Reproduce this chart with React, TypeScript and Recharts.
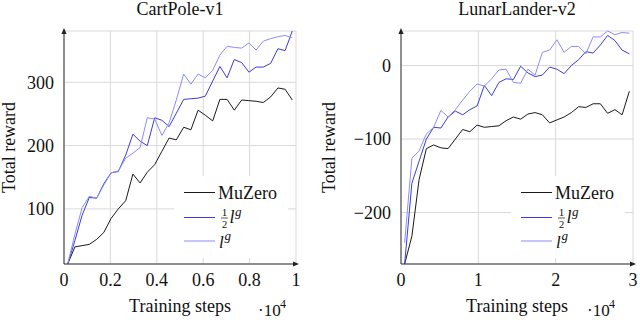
import React from 'react';
import { LineChart, Line, XAxis, YAxis, CartesianGrid, ReferenceDot } from 'recharts';

// ---------- data (x in units of 10^4 training steps) ----------
const cartpoleSteps = [0.016, 0.047, 0.078, 0.109, 0.141, 0.172, 0.203, 0.234, 0.266, 0.297, 0.328, 0.359, 0.391, 0.422, 0.453, 0.484, 0.516, 0.547, 0.578, 0.609, 0.641, 0.672, 0.703, 0.734, 0.766, 0.797, 0.828, 0.859, 0.891, 0.922, 0.953, 0.984];
const cartpoleMuZero = [13, 40, 42, 44, 52, 63, 85, 100, 113, 155, 141, 158, 170, 191, 212, 209, 229, 225, 256, 248, 239, 273, 273, 256, 272, 271, 270, 268, 277, 291, 289, 272];
const cartpoleHalfLg = [13, 50, 90, 118, 117, 140, 157, 159, 185, 218, 207, 200, 244, 240, 230, 251, 273, 274, 275, 278, 302, 325, 307, 336, 331, 316, 324, 324, 330, 353, 350, 381];
const cartpoleLg = [13, 60, 102, 120, 117, 138, 157, 160, 180, 188, 197, 244, 242, 216, 236, 272, 313, 297, 313, 307, 319, 343, 357, 355, 354, 362, 351, 365, 369, 372, 374, 370];
const cartpoleXTicks = [0, 0.2, 0.4, 0.6, 0.8, 1];
const cartpoleYTicks = [100, 200, 300];

const lunarSteps = [0.047, 0.141, 0.234, 0.328, 0.422, 0.516, 0.609, 0.703, 0.797, 0.891, 0.984, 1.078, 1.172, 1.266, 1.359, 1.453, 1.547, 1.641, 1.734, 1.828, 1.922, 2.016, 2.109, 2.203, 2.297, 2.391, 2.484, 2.578, 2.672, 2.766, 2.859, 2.953];
const lunarMuZero = [-270, -232, -155, -113, -108, -112, -113, -100, -87, -90, -81, -84, -83, -82, -75, -70, -73, -66, -64, -67, -78, -74, -70, -64, -56, -57, -52, -52, -65, -60, -67, -35];
const lunarHalfLg = [-270, -160, -130, -100, -84, -85, -70, -62, -67, -60, -55, -27, -41, -23, -18, -19, -1, -10, -15, -13, -2, -5, -11, 0, 8, 19, 17, 28, 41, 34, 21, 16];
const lunarLg = [-241, -126, -116, -93, -84, -61, -70, -60, -47, -35, -25, -28, -18, -6, -5, -23, -24, -5, -13, 18, 21, 35, 18, 26, 26, 16, 39, 39, 47, 42, 45, 44];
const lunarXTicks = [0, 1, 2, 3];
const lunarYTicks = [-200, -100, 0];

const seriesColors = ['#1a1a1a', '#3c3cd4', '#8c8cff'];

const FONT = 'Liberation Serif, Times New Roman, serif';

const fmt = (v: number) => (v < 0 ? '\u2212' + Math.abs(v) : String(v));

const UpArrow = (p: any) => (
  <path d={`M${p.cx},${p.cy - 3} L${p.cx - 2.6},${p.cy + 3} L${p.cx + 2.6},${p.cy + 3} Z`} fill="#222" />
);
const RightArrow = (p: any) => (
  <path d={`M${p.cx + 3},${p.cy} L${p.cx - 3},${p.cy - 2.6} L${p.cx - 3},${p.cy + 2.6} Z`} fill="#222" />
);

type PanelProps = {
  offsetX: number;
  title: string;
  steps: number[];
  muzero: number[];
  half: number[];
  full: number[];
  xDomain: [number, number];
  xTicks: number[];
  yTicks: number[];
  plotLeft: number;
  plotRight: number;
  expX: number;
};

const PLOT_TOP = 31;
const PLOT_BOTTOM = 264;
const YAXIS_W = 60;
const XAXIS_H = 30;

const tickStyle = { fontSize: 18, fill: '#111', fontFamily: FONT };

function Panel(props: PanelProps) {
  const { offsetX, title, steps, muzero, half, full, xDomain, xTicks, yTicks, plotLeft, plotRight, expX } = props;
  const data = steps.map((s, i) => ({ x: s, muzero: muzero[i], half: half[i], full: full[i] }));
  const all = [...muzero, ...half, ...full];
  const yMin = Math.min(...all);
  const yMax = Math.max(...all);
  const cx = (plotLeft + plotRight) / 2;
  const lx = plotLeft + 120;
  const boxL = plotLeft + 110;
  return (
    <div style={{ position: 'absolute', left: offsetX, top: 0, width: 320, height: 320, fontFamily: FONT }}>
      <LineChart
        width={320}
        height={320}
        data={data}
        style={{ fontFamily: FONT }}
        margin={{ top: PLOT_TOP, right: 320 - plotRight, bottom: 320 - PLOT_BOTTOM - XAXIS_H, left: plotLeft - YAXIS_W }}
      >
        <CartesianGrid stroke="#d9d9d9" strokeWidth={1} />
        <XAxis
          type="number"
          dataKey="x"
          domain={xDomain}
          ticks={xTicks}
          interval={0}
          height={XAXIS_H}
          tickLine={false}
          tickMargin={3}
          axisLine={{ stroke: '#333', strokeWidth: 1 }}
          tick={tickStyle}
          tickFormatter={fmt}
        />
        <YAxis
          type="number"
          domain={[yMin, yMax]}
          ticks={yTicks}
          interval={0}
          width={YAXIS_W}
          tickLine={false}
          tickMargin={4}
          axisLine={{ stroke: '#333', strokeWidth: 1 }}
          tick={tickStyle}
          tickFormatter={fmt}
        />
        <Line type="linear" dataKey="muzero" stroke={seriesColors[0]} strokeWidth={1} dot={false} isAnimationActive={false} />
        <Line type="linear" dataKey="half" stroke={seriesColors[1]} strokeWidth={1} dot={false} isAnimationActive={false} />
        <Line type="linear" dataKey="full" stroke={seriesColors[2]} strokeWidth={1} dot={false} isAnimationActive={false} />
        <ReferenceDot x={xDomain[0]} y={yMax} r={0} shape={UpArrow} ifOverflow="visible" />
        <ReferenceDot x={xDomain[1]} y={yMin} r={0} shape={RightArrow} ifOverflow="visible" />
      </LineChart>
      <svg
        width={320}
        height={320}
        style={{ position: 'absolute', left: 0, top: 0, pointerEvents: 'none', fontFamily: FONT }}
      >
        <text x={cx} y={15} textAnchor="middle" fontSize={18} fill="#111">{title}</text>
        <text x={cx} y={312} textAnchor="middle" fontSize={18} fill="#111">Training steps</text>
        <text x={expX} y={316} fontSize={17} fill="#111">
          {'\u00b710'}
        </text>
        <text x={expX + 22} y={308} fontSize={12} fill="#111">4</text>
        <text x={15} y={147.5} textAnchor="middle" fontSize={18} fill="#111" transform={`rotate(-90 15 147.5)`}>
          Total reward
        </text>
        {/* legend */}
        <rect x={boxL} y={176} width={114} height={82} fill="#fff" />
        <line x1={lx} x2={lx + 31} y1={192.5} y2={192.5} stroke={seriesColors[0]} strokeWidth={1} />
        <line x1={lx} x2={lx + 31} y1={217.5} y2={217.5} stroke={seriesColors[1]} strokeWidth={1} />
        <line x1={lx} x2={lx + 31} y1={241} y2={241} stroke={seriesColors[2]} strokeWidth={1} />
        <text x={lx + 34} y={198.5} fontSize={18} fill="#111">MuZero</text>
        <text x={lx + 40.5} y={215.5} textAnchor="middle" fontSize={11} fill="#111">1</text>
        <line x1={lx + 37} x2={lx + 44} y1={218} y2={218} stroke="#111" strokeWidth={0.7} />
        <text x={lx + 40.5} y={227.5} textAnchor="middle" fontSize={10.5} fill="#111">2</text>
        <text x={lx + 45.5} y={223} fontSize={18} fontStyle="italic" fill="#111">l</text>
        <text x={lx + 51} y={216} fontSize={13} fontStyle="italic" fill="#111">g</text>
        <text x={lx + 35} y={247.5} fontSize={17} fontStyle="italic" fill="#111">l</text>
        <text x={lx + 40.5} y={240} fontSize={13} fontStyle="italic" fill="#111">g</text>
      </svg>
    </div>
  );
}

export default function App() {
  return (
    <div style={{ position: 'absolute', left: 0, top: 0, width: 640, height: 320, background: '#fff' }}>
      <Panel
        offsetX={0}
        title="CartPole-v1"
        steps={cartpoleSteps}
        muzero={cartpoleMuZero}
        half={cartpoleHalfLg}
        full={cartpoleLg}
        xDomain={[0, 1]}
        xTicks={cartpoleXTicks}
        yTicks={cartpoleYTicks}
        plotLeft={64}
        plotRight={296}
        expX={258}
      />
      <Panel
        offsetX={320}
        title="LunarLander-v2"
        steps={lunarSteps}
        muzero={lunarMuZero}
        half={lunarHalfLg}
        full={lunarLg}
        xDomain={[0, 3]}
        xTicks={lunarXTicks}
        yTicks={lunarYTicks}
        plotLeft={81}
        plotRight={313}
        expX={267}
      />
    </div>
  );
}
